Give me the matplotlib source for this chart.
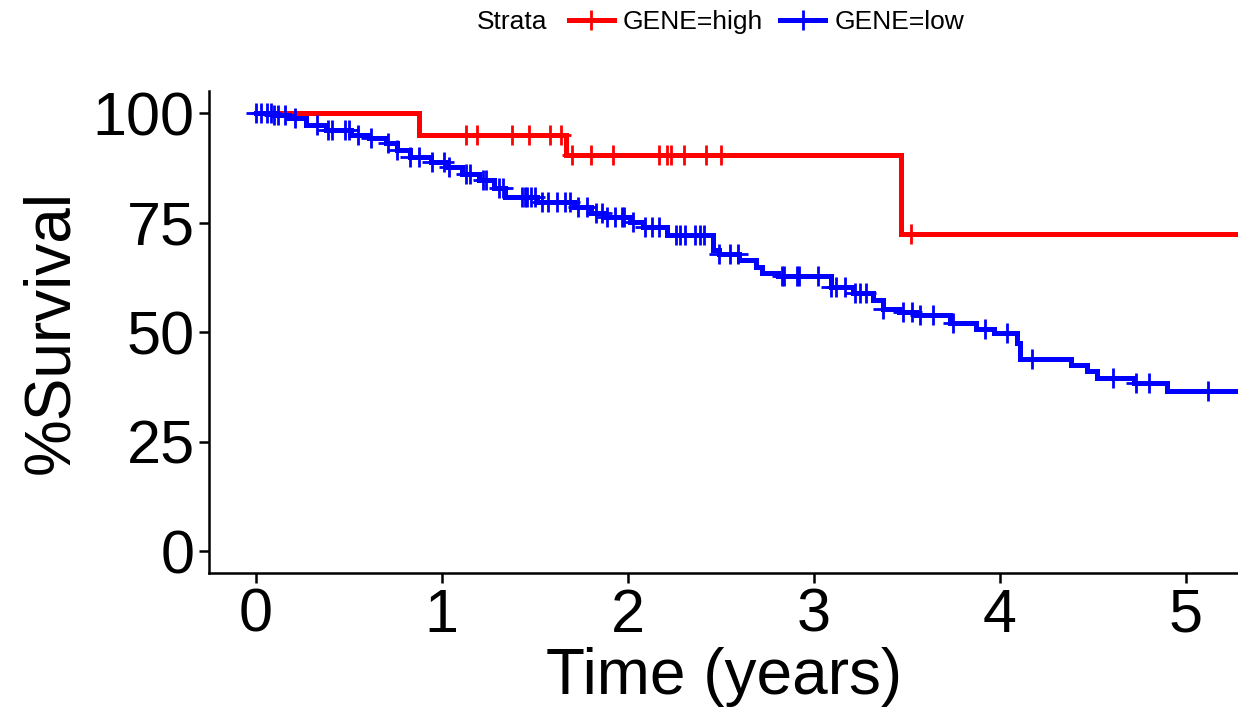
import numpy as np
import matplotlib
matplotlib.use("Agg")
import matplotlib.pyplot as plt
from matplotlib.lines import Line2D

plt.rcParams['font.family'] = ['Liberation Sans', 'DejaVu Sans']

# Kaplan-Meier steps (time in years, survival in %)
high_time = [0.0, 0.88, 1.67, 3.47]
high_surv = [100.0, 95.0, 90.5, 72.5]
high_censor = [1.13, 1.19, 1.38, 1.47, 1.58, 1.64, 1.70, 1.80, 1.92, 2.17,
               2.21, 2.23, 2.30, 2.42, 2.50, 3.52]

low_time = [0.0, 0.10, 0.18, 0.27, 0.38, 0.51, 0.61, 0.70, 0.76, 0.83, 0.94,
            1.03, 1.11, 1.20, 1.28, 1.34, 1.51, 1.71, 1.80, 1.87, 2.01, 2.08,
            2.21, 2.46, 2.49, 2.60, 2.69, 2.72, 2.81, 3.09, 3.21, 3.32, 3.37,
            3.46, 3.55, 3.73, 3.87, 3.97, 4.09, 4.11, 4.38, 4.47, 4.52, 4.72,
            4.90]
low_surv = [100.0, 99.5, 98.8, 97.3, 96.1, 95.0, 94.3, 93.1, 91.6, 90.0, 88.9,
            87.7, 86.2, 84.7, 82.9, 80.9, 79.8, 78.6, 77.2, 76.3, 75.2, 74.1,
            72.1, 68.7, 67.8, 66.4, 64.9, 63.4, 62.8, 60.3, 59.0, 57.3, 55.4,
            54.6, 53.9, 52.0, 50.8, 49.7, 47.5, 43.8, 42.6, 41.1, 39.6, 38.3,
            36.6]
low_censor = [0.0, 0.03, 0.06, 0.08, 0.10, 0.12, 0.16, 0.21, 0.33, 0.39, 0.41,
              0.48, 0.50, 0.55, 0.62, 0.71, 0.76, 0.83, 0.88, 0.95, 1.01, 1.04,
              1.13, 1.15, 1.22, 1.24, 1.31, 1.33, 1.43, 1.45, 1.46, 1.48, 1.50,
              1.54, 1.57, 1.62, 1.66, 1.69, 1.73, 1.78, 1.83, 1.86, 1.89, 1.93,
              1.97, 1.98, 2.03, 2.09, 2.13, 2.17, 2.26, 2.28, 2.31, 2.36, 2.39,
              2.41, 2.49, 2.55, 2.59, 2.83, 2.84, 2.91, 2.92, 3.02, 3.09, 3.12,
              3.17, 3.22, 3.25, 3.28, 3.37, 3.48, 3.53, 3.57, 3.64, 3.75, 3.92,
              4.04, 4.17, 4.61, 4.73, 4.80, 5.12]

strata_labels = ['GENE=high', 'GENE=low']
x_ticks = [0, 1, 2, 3, 4, 5]
y_ticks = [0, 25, 50, 75, 100]
t_end = 5.28


def surv_at(times, surv, t):
    idx = np.searchsorted(times, t, side='right') - 1
    return np.asarray(surv)[idx]


fig = plt.figure(figsize=(12.38, 7.19), dpi=100)
ax = fig.add_axes([0.169, 0.203, 0.831, 0.670])

for times, surv, cens, col in [(high_time, high_surv, high_censor, 'red'),
                               (low_time, low_surv, low_censor, 'blue')]:
    xs = list(times) + [t_end]
    ys = list(surv) + [surv[-1]]
    ax.plot(xs, ys, drawstyle='steps-post', color=col, lw=3.6,
            solid_joinstyle='miter', zorder=3)
    ax.plot(cens, surv_at(times, surv, cens), ls='none', marker='+',
            color=col, ms=14, mew=2.0, zorder=4)

ax.set_xlim(-0.25, t_end)
ax.set_ylim(-5, 105)
ax.set_xticks(x_ticks)
ax.set_yticks(y_ticks)
ax.tick_params(labelsize=44, width=1.8, length=7, color='black', labelcolor='black')
for s in ['top', 'right']:
    ax.spines[s].set_visible(False)
for s in ['left', 'bottom']:
    ax.spines[s].set_linewidth(1.8)

ax.set_xlabel('Time (years)', fontsize=46, labelpad=2)
ax.set_ylabel('%Survival', fontsize=46, labelpad=8)

# legend on top: "Strata" title followed by the two entries in one row
fig.text(0.385, 0.969, 'Strata', fontsize=19, ha='left', va='center')
handles = [Line2D([], [], color='red', lw=3.6, marker='+', ms=14, mew=2.0),
           Line2D([], [], color='blue', lw=3.6, marker='+', ms=14, mew=2.0)]
fig.legend(handles, strata_labels, loc='center', bbox_to_anchor=(0.619, 0.969),
           ncol=2, frameon=False, fontsize=19, handlelength=1.7,
           handletextpad=0.35, columnspacing=0.65, borderpad=0)

fig.savefig('out.png', dpi=100)
